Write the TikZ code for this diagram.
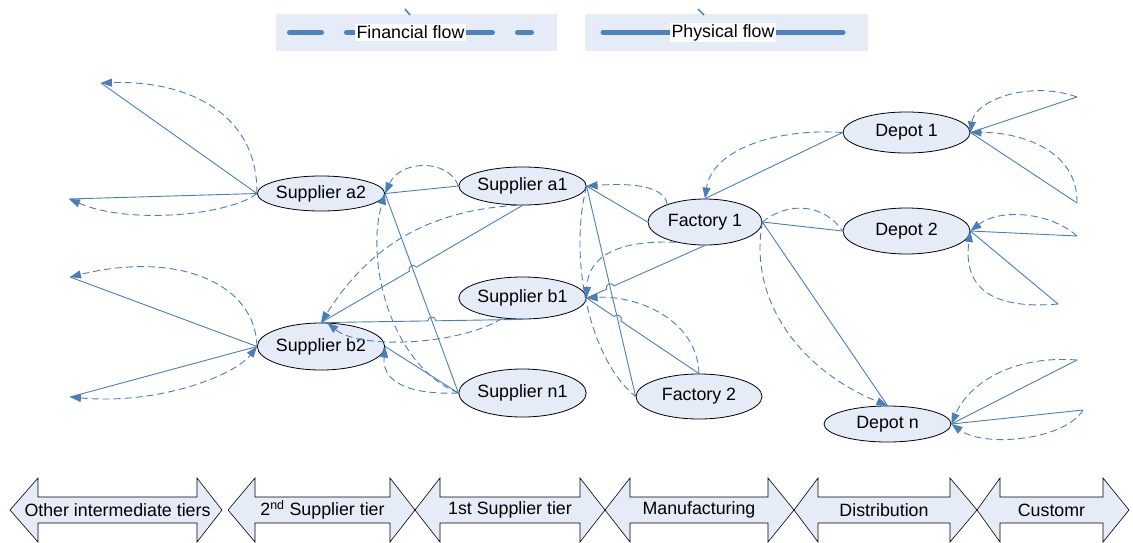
\documentclass[tikz,border=0pt]{standalone}
\usepackage{fontspec}
\setmainfont{Liberation Sans}
\usetikzlibrary{shapes.geometric,arrows.meta,calc}
\definecolor{flow}{HTML}{4A7EBB}
\definecolor{legendline}{HTML}{4F81BD}
\definecolor{paleblue}{HTML}{E6ECF7}

% double-headed stage arrow: left tip, left head base, right head base, right tip, name, label
\newcommand\tierarrow[6]{%
  \draw[tier] (#1,510) -- (#2,478) -- (#2,497) -- (#3,497) -- (#3,478) -- (#4,510)
    -- (#3,542) -- (#3,523) -- (#2,523) -- (#2,542) -- cycle;
  \node[tiertext] (#5) at ({(#2+#3)/2},510) {#6};}

% straight physical-flow line with a small hop over the crossing point #3
\newcommand\jumpline[3]{%
  \coordinate (#3a) at ($(#3)!4pt!(#1)$);
  \coordinate (#3b) at ($(#3)!4pt!(#2)$);
  \draw[phys] (#1) -- (#3a) .. controls ($(#3a)!5pt!-90:(#3)$) and ($(#3b)!5pt!90:(#3)$) .. (#3b) -- (#2);}

\begin{document}
\begin{tikzpicture}[x=1pt,y=-1pt,
  every node/.style={font=\fontsize{17.8}{20}\selectfont},
  stage/.style={ellipse, draw=black, line width=0.8pt, fill=paleblue, inner sep=0pt},
  phys/.style={draw=flow, line width=0.9pt},
  fin/.style={draw=flow, line width=0.9pt, dash pattern=on 7pt off 4pt},
  fhead/.style={-{Triangle[length=11pt,width=8pt]}},
  bhead/.style={{Triangle[length=11pt,width=8pt]}-{Triangle[length=11pt,width=8pt]}},
  legendbox/.style={fill=paleblue, inner sep=0pt},
  legendtext/.style={fill=white, inner sep=1.5pt},
  tier/.style={draw=black, line width=0.6pt, fill=paleblue},
  tiertext/.style={inner sep=0pt}]
\useasboundingbox (0,0) rectangle (1133,542);

% ---------- legend ----------
\node[legendbox, minimum width=281, minimum height=37] (finbox) at (416.5,32.5) {};
\node[legendbox, minimum width=283, minimum height=37] (physbox) at (726.5,32.5) {};
\draw[legendline, line width=5pt, line cap=round, dash pattern=on 32pt off 25pt] (289.5,32.5) -- (531.5,32.5);
\draw[legendline, line width=5pt, line cap=round] (603,32.5) -- (843,32.5);
\node[legendtext] (fintxt) at (410.5,32.5) {Financial flow};
\node[legendtext] (phystxt) at (723,32.5) {Physical flow};
\draw[legendline, line width=1.6pt] (405,9) -- (410,15);
\draw[legendline, line width=1.6pt] (698,9) -- (704,15);

% ---------- stages ----------
\node[stage, minimum width=127, minimum height=35] (a2) at (321,193.5) {Supplier a2};
\node[stage, minimum width=126, minimum height=47] (b2) at (321,346.5) {Supplier b2};
\node[stage, minimum width=127, minimum height=38] (a1) at (522.5,186) {Supplier a1};
\node[stage, minimum width=127, minimum height=42] (b1) at (522.5,298) {Supplier b1};
\node[stage, minimum width=127, minimum height=48] (n1) at (522.5,393) {Supplier n1};
\node[stage, minimum width=114, minimum height=46] (f1) at (705,222) {Factory 1};
\node[stage, minimum width=126, minimum height=45] (f2) at (699,396.5) {Factory 2};
\node[stage, minimum width=127, minimum height=41] (d1) at (906.5,132.5) {Depot 1};
\node[stage, minimum width=127, minimum height=46] (d2) at (906.5,231) {Depot 2};
\node[stage, minimum width=127, minimum height=36] (dn) at (887.5,424) {Depot n};

% outer tiers and customers
\coordinate (oa2t) at (101,83);
\coordinate (oa2b) at (69,199);
\coordinate (ob2t) at (70,277);
\coordinate (ob2b) at (70,397);
\coordinate (od1t) at (1077,97);
\coordinate (od1b) at (1077,203);
\coordinate (od2t) at (1077,236);
\coordinate (od2b) at (1058,304);
\coordinate (odnt) at (1077,360);
\coordinate (odnb) at (1083,410);

% ---------- other intermediate tiers ----------
\draw[phys] (a2.west) -- (oa2t);
\draw[fin, fhead] (a2.west) .. controls (258,112) and (185,80) .. (oa2t);
\draw[phys] (a2.west) -- (oa2b);
\draw[fin, fhead] (a2.west) .. controls (230,215) and (130,225) .. (oa2b);
\draw[phys] (b2.west) -- (ob2t);
\draw[fin, fhead] (b2.west) .. controls (256,285) and (180,250) .. (ob2t);
\draw[phys] (ob2b) -- (b2.west);
\draw[fin, bhead] (ob2b) .. controls (160,405) and (235,375) .. (b2.west);

% ---------- second tier ----------
\draw[phys] (a1.west) -- (a2.east);
\draw[fin, fhead] (a1.west) .. controls (448,158) and (400,160) .. (a2.east);
\draw[phys] (a2.east) -- (n1.west);
\draw[fin, fhead] (n1.west) .. controls (390,365) and (365,260) .. (a2.east);
\draw[phys] (n1.west) -- (b2.east);
\draw[fin, fhead] (n1.west) .. controls (405,395) and (382,380) .. (b2.east);

\coordinate (xa) at (intersection of a1.south--b2.north and a2.east--n1.west);
\coordinate (xb) at (intersection of b1.south--b2.north and a2.east--n1.west);
\jumpline{a1.south}{b2.north}{xa}
\jumpline{b1.south}{b2.north}{xb}
\draw[fin, fhead] (a1.255) .. controls (430,210) and (370,245) .. (b2.north);
\draw[fin, fhead] (b1.225) .. controls (460,345) and (360,350) .. (b2.75);

% ---------- first tier ----------
\draw[phys] (a1.east) -- (f2.west);
\draw[fin] (a1.east) .. controls (568,260) and (590,360) .. (f2.west);
\draw[phys] (f1.west) -- (a1.east);
\draw[fin, fhead] (f1.155) .. controls (664,185) and (630,183) .. (a1.east);

\coordinate (xc) at (intersection of f1.south--b1.east and a1.east--f2.west);
\coordinate (xd) at (intersection of f2.north--b1.east and a1.east--f2.west);
\jumpline{f1.south}{b1.east}{xc}
\jumpline{f2.north}{b1.east}{xd}
\draw[fin, fhead] (f1.215) .. controls (620,240) and (588,255) .. (b1.east);
\draw[fin, fhead] (f2.north) .. controls (697,318) and (635,295) .. (b1.east);

% ---------- manufacturing to distribution ----------
\draw[phys] (d1.west) -- (f1.north);
\draw[fin, fhead] (d1.west) .. controls (775,128) and (712,150) .. (f1.north);
\draw[phys] (f1.east) -- (d2.west);
\draw[fin] (f1.east) .. controls (790,200) and (825,205) .. (d2.west);
\draw[phys] (f1.east) -- (dn.north);
\draw[fin, fhead] (f1.east) .. controls (748,300) and (800,370) .. (dn.north);

% ---------- customers ----------
\draw[phys] (d1.east) -- (od1t);
\draw[fin, fhead] (od1t) .. controls (1030,80) and (975,100) .. (d1.east);
\draw[phys] (d1.east) -- (od1b);
\draw[fin, fhead] (od1b) .. controls (1078,150) and (1020,132) .. (d1.east);
\draw[phys] (d2.east) -- (od2t);
\draw[fin, fhead] (od2t) .. controls (1050,212) and (1000,208) .. (d2.east);
\draw[phys] (d2.east) -- (od2b);
\draw[fin, fhead] (od2b) .. controls (988,310) and (963,285) .. (d2.east);
\draw[phys] (dn.east) -- (odnt);
\draw[fin, fhead] (odnt) .. controls (1010,355) and (968,385) .. (dn.east);
\draw[phys] (dn.east) -- (odnb);
\draw[fin, fhead] (odnb) .. controls (1065,440) and (985,448) .. (dn.east);

% ---------- stage arrows ----------
\tierarrow{10}{38}{197}{222}{t1}{Other intermediate tiers}
\tierarrow{228}{255}{390}{415}{t2}{2\textsuperscript{nd} Supplier tier}
\tierarrow{415}{440}{580}{605}{t3}{1st Supplier tier}
\tierarrow{605}{630}{768}{794}{t4}{Manufacturing}
\tierarrow{794}{818}{950}{977}{t5}{Distribution}
\tierarrow{977}{1000}{1103}{1129}{t6}{Customr}
\end{tikzpicture}
\end{document}
